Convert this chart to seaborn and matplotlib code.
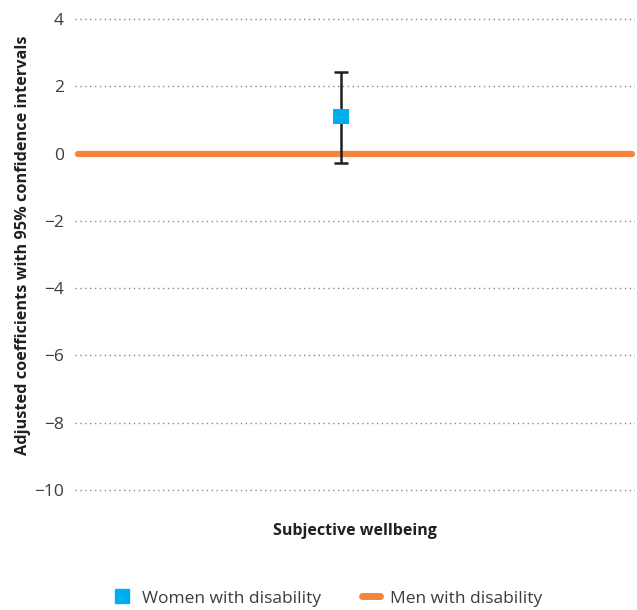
import numpy as np
import pandas as pd
import matplotlib
matplotlib.use("Agg")
import matplotlib.pyplot as plt
import seaborn as sns
from matplotlib.lines import Line2D

# data
groups = ["Women with disability", "Men with disability"]
coef_women = 1.1
ci_women = [-0.27, 2.42]
coef_men = 0.0
yticks = [4, 2, 0, -2, -4, -6, -8, -10]

blue = "#00AEEF"
orange = "#F4843C"

sns.set_theme(style="white")
plt.rcParams["font.family"] = ["Open Sans", "DejaVu Sans"]

fig = plt.figure(figsize=(6.37, 6.1), dpi=100)
ax = fig.add_axes([0.118, 0.1857, 0.879, 0.786])

# men: reference line across the whole axis
men = pd.DataFrame({"x": [-0.99, 0.99], "y": [coef_men, coef_men]})
sns.lineplot(data=men, x="x", y="y", color=orange, lw=4.5, ax=ax,
             solid_capstyle="round", zorder=3, clip_on=False)

# women: point estimate with CI
ax.errorbar([-0.05], [coef_women],
            yerr=[[coef_women - ci_women[0]], [ci_women[1] - coef_women]],
            fmt="none", ecolor="#231f20", elinewidth=1.8, capsize=5,
            capthick=1.8, zorder=4)
women = pd.DataFrame({"x": [-0.05], "y": [coef_women]})
sns.scatterplot(data=women, x="x", y="y", marker="s", s=130, color=blue,
                edgecolor="none", ax=ax, zorder=5)

ax.set_xlim(-1, 1)
ax.set_ylim(-10.2, 4.05)
ax.set_yticks(yticks)
ax.set_yticklabels([str(t).replace("-", "\u2212") for t in yticks],
                   fontsize=12.5, color="#3c3c3c")
ax.set_xticks([])
for t in yticks:
    ax.axhline(t, color="#888888", lw=1, ls=(0, (1, 2.5)), zorder=1)
for s in ax.spines.values():
    s.set_visible(False)
ax.tick_params(axis="y", length=0, pad=8)

ax.set_xlabel("Subjective wellbeing", fontsize=11.5, fontweight="bold",
              color="#231f20", labelpad=19)
ax.set_ylabel("Adjusted coefficients with 95% confidence intervals",
              fontsize=11.7, fontweight="bold", color="#231f20")
ax.yaxis.set_label_coords(-0.079, 0.525)

handles = [
    Line2D([], [], marker="s", ls="none", color=blue, markersize=10),
    Line2D([], [], color=orange, lw=5, solid_capstyle="round"),
]
fig.legend(handles, groups, loc="lower center", bbox_to_anchor=(0.515, -0.02),
           ncol=2, frameon=False, fontsize=12.5, handlelength=1.0,
           handletextpad=0.6, columnspacing=2.4, labelcolor="#3c3c3c")

fig.savefig("out.png", dpi=100)
